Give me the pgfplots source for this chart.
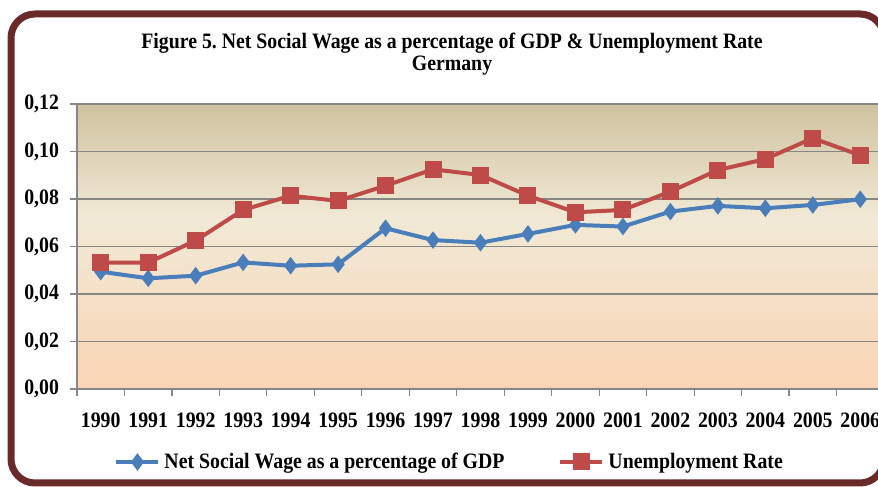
\documentclass[border=0pt]{standalone}
\usepackage{fontspec}
\setmainfont{Liberation Serif}[FakeStretch=0.9]
\usepackage{pgfplots}
\pgfplotsset{compat=1.18}
\definecolor{framered}{HTML}{6B2A2A}
\definecolor{bgtan}{HTML}{CFC29F}
\definecolor{bgcream}{HTML}{F1E9D6}
\definecolor{bgpeach}{HTML}{F9D5B4}
\definecolor{nswblue}{HTML}{4A7EBB}
\definecolor{unred}{HTML}{BE4B48}
\definecolor{gridgray}{HTML}{868686}
\pgfdeclareverticalshading{plotbg}{100bp}{color(0bp)=(bgpeach); color(25bp)=(bgpeach); color(55bp)=(bgcream); color(75bp)=(bgtan); color(100bp)=(bgtan)}
\newcommand\chartfont{\fontsize{11}{13}\selectfont\bfseries}
\frenchspacing

\begin{document}
\begin{tikzpicture}[x=0.5pt,y=0.5pt]
\useasboundingbox (0,0) rectangle (878,487);
\begin{scope}
\clip (0,0) rectangle (878,487);
% outer frame, cut off on the right like the screenshot
\draw[framered, line width=3.5pt, rounded corners=12pt] (11,4) rectangle (884,473);

\node[font=\chartfont] at (452,444) {Figure 5. Net Social Wage as a percentage of GDP \& Unemployment Rate};
\node[font=\chartfont] at (452,421) {Germany};

\begin{axis}[
    at={(38.5pt,49pt)}, anchor=south west,
    width=403.5pt, height=142.5pt, scale only axis,
    xmin=-0.5, xmax=16.5, ymin=0, ymax=0.12,
    xtick={0,...,16},
    xticklabels={1990,1991,1992,1993,1994,1995,1996,1997,1998,1999,2000,2001,2002,2003,2004,2005,2006},
    minor xtick={-0.5,0.5,...,16.5},
    major x tick style={draw=none},
    ytick={0,0.02,0.04,0.06,0.08,0.10,0.12},
    ymajorgrids, grid style={gridgray, line width=0.6pt},
    axis x line*=bottom, axis y line*=left,
    axis line style={gridgray, line width=0.6pt},
    tick style={gridgray, line width=0.6pt},
    tick align=outside,
    major tick length=3.5pt, minor tick length=3.5pt,
    axis background/.style={shading=plotbg},
    xticklabel style={font=\chartfont, yshift=-5pt},
    yticklabel style={font=\chartfont, xshift=-2pt,
        /pgf/number format/.cd, fixed, fixed zerofill, precision=2, use comma, assume math mode=true},
    legend style={at={(0.463,-0.256)}, anchor=center, draw=none, fill=none, font=\chartfont,
        /tikz/every even column/.append style={column sep=25pt}},
    legend columns=2,
    legend image code/.code={\draw[mark repeat=2, mark phase=2, #1] plot coordinates {(0pt,0pt) (10.5pt,0pt) (21pt,0pt)};},
]
\addplot[nswblue, line width=2pt, mark=diamond*, mark size=4pt, mark options={fill=nswblue, line width=0.5pt}] coordinates {
    (0,0.0494) (1,0.0466) (2,0.0477) (3,0.0533) (4,0.0519) (5,0.0525) (6,0.0677) (7,0.0627) (8,0.0616)
    (9,0.0653) (10,0.0691) (11,0.0684) (12,0.0747) (13,0.0771) (14,0.0761) (15,0.0775) (16,0.0799)
};
\addlegendentry{Net Social Wage as a percentage of GDP}
\addplot[unred, line width=2pt, mark=square*, mark size=4pt, mark options={fill=unred, line width=0.5pt}] coordinates {
    (0,0.0532) (1,0.0532) (2,0.0625) (3,0.0754) (4,0.0814) (5,0.0792) (6,0.0856) (7,0.0925) (8,0.0901)
    (9,0.0814) (10,0.0744) (11,0.0754) (12,0.0831) (13,0.0922) (14,0.0968) (15,0.1056) (16,0.0984)
};
\addlegendentry{Unemployment Rate}
\end{axis}
\end{scope}
\end{tikzpicture}
\end{document}
